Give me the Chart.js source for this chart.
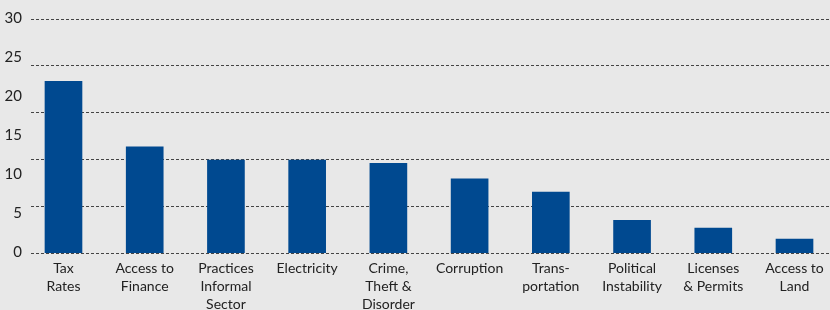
<!DOCTYPE html>
<html>
<head>
<meta charset="utf-8">
<script src="https://cdn.jsdelivr.net/npm/chart.js@4"></script>
<style>
    html, body { margin: 0; padding: 0; background: #e8e8e8; overflow: hidden; }
    #wrap { width: 830px; height: 310px; }
</style>
</head>
<body>
<div id="wrap"><canvas id="chart" width="830" height="310"></canvas></div>
<script>
// Obstacles, share of firms (%)
const categories = [
    ['Tax', 'Rates'],
    ['Access to', 'Finance'],
    ['Practices', 'Informal', 'Sector'],
    ['Electricity'],
    ['Crime,', 'Theft &', 'Disorder'],
    ['Corruption'],
    ['Trans-', 'portation'],
    ['Political', 'Instability'],
    ['Licenses', '& Permits'],
    ['Access to', 'Land']
];
const values = [22.0, 13.6, 11.9, 11.9, 11.5, 9.5, 7.8, 4.2, 3.2, 1.8];
const yLabelTicks = [0, 5, 10, 15, 20, 25, 30];
const yGridTicks = [0, 6, 12, 18, 24, 30];

const font = "Lato, 'Open Sans', sans-serif";

const ctx = document.getElementById('chart').getContext('2d');
new Chart(ctx, {
    type: 'bar',
    data: {
        datasets: [{
            data: values.map((v, i) => ({ x: i, y: v })),
            backgroundColor: '#004990',
            borderWidth: 0,
            barThickness: 37,
            yAxisID: 'y'
        }]
    },
    options: {
        responsive: false,
        animation: false,
        layout: { padding: { top: 19, left: 0, right: 0, bottom: 0 } },
        plugins: { legend: { display: false }, tooltip: { enabled: false } },
        scales: {
            x: {
                type: 'linear',
                offset: false,
                min: -0.4,
                max: 9.437,
                grid: { display: false, drawTicks: false },
                border: { display: false },
                afterBuildTicks: axis => { axis.ticks = categories.map((c, i) => ({ value: i })); },
                afterFit: axis => { axis.height = 57; },
                ticks: {
                    autoSkip: false,
                    maxRotation: 0,
                    padding: 6,
                    color: '#222',
                    font: { family: font, size: 14, lineHeight: '18px' },
                    callback: (v, i) => categories[i]
                }
            },
            y: {
                position: 'left',
                min: 0,
                max: 30,
                grid: { display: false, drawTicks: false },
                border: { display: false },
                afterBuildTicks: axis => { axis.ticks = yLabelTicks.map(v => ({ value: v })); },
                afterFit: axis => { axis.width = 31; },
                ticks: {
                    padding: 9,
                    labelOffset: -1,
                    color: '#222',
                    font: { family: font, size: 15 }
                }
            },
            y2: {
                position: 'right',
                min: 0,
                max: 30,
                afterBuildTicks: axis => { axis.ticks = yGridTicks.map(v => ({ value: v })); },
                afterFit: axis => { axis.width = 0; },
                grid: {
                    color: '#444',
                    lineWidth: 1,
                    drawTicks: false
                },
                border: { display: false, dash: [3, 2] },
                ticks: { display: false }
            }
        }
    }
});
</script>
</body>
</html>
